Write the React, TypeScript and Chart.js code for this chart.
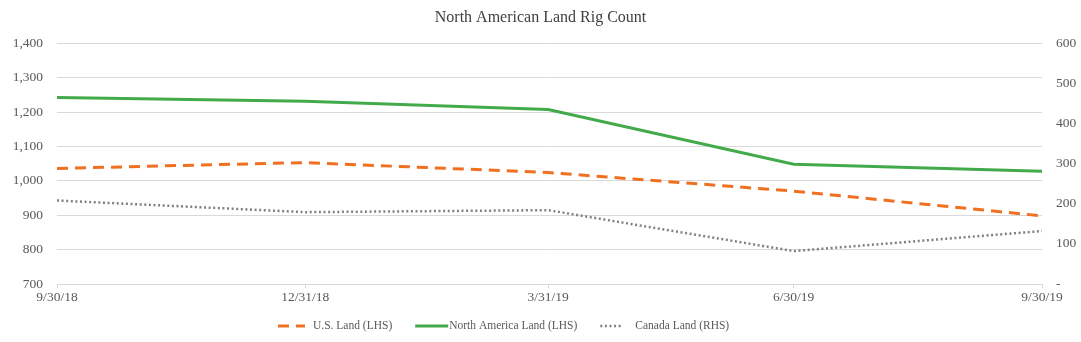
import React, { useEffect, useRef } from "react";
import { Chart, registerables } from "chart.js";

Chart.register(...registerables);

const categories = ["9/30/18", "12/31/18", "3/31/19", "6/30/19", "9/30/19"];
const usLand = [1036, 1053, 1024, 970, 898];
const northAmericaLand = [1242, 1231, 1207, 1048, 1028];
const canadaLand = [208, 179, 184, 82, 132];
const leftTicks = [700, 800, 900, 1000, 1100, 1200, 1300, 1400];
const rightTicks = [0, 100, 200, 300, 400, 500, 600];

const FONT = "'Liberation Serif', 'Times New Roman', serif";
const TICK_COLOR = "#595959";

// Day number of each date label (the x axis is a date axis)
const toDay = (s: string) => {
  const [m, d, y] = s.split("/").map(Number);
  return Date.UTC(2000 + y, m - 1, d) / 86400000;
};
const dayValues = categories.map(toDay);
const pts = (vals: number[]) => vals.map((v, i) => ({ x: dayValues[i], y: v }));

const legendPlugin = {
  id: "customLegend",
  afterDraw(chart: any) {
    const ctx = chart.ctx;
    const sampleW = [27, 33, 21];
    const textGap = [8, 1, 14];
    const itemGap = 23;
    let x = 278;
    const y = 326;
    ctx.save();
    ctx.font = `11.5px ${FONT}`;
    ctx.textBaseline = "middle";
    ctx.textAlign = "left";
    chart.data.datasets.forEach((ds: any, i: number) => {
      ctx.save();
      ctx.strokeStyle = ds.borderColor;
      ctx.lineWidth = ds.borderWidth;
      ctx.setLineDash(ds.borderDash || []);
      ctx.beginPath();
      ctx.moveTo(x, y);
      ctx.lineTo(x + sampleW[i], y);
      ctx.stroke();
      ctx.restore();
      x += sampleW[i] + textGap[i];
      ctx.fillStyle = TICK_COLOR;
      ctx.fillText(ds.label, x, y);
      x += ctx.measureText(ds.label).width + itemGap;
    });
    ctx.restore();
  },
};

export default function App() {
  const ref = useRef<HTMLCanvasElement | null>(null);
  useEffect(() => {
    if (!ref.current) return;
    const chart = new Chart(ref.current, {
      type: "line",
      data: {
        datasets: [
          {
            label: "U.S. Land (LHS)",
            data: pts(usLand),
            borderColor: "#F07022",
            backgroundColor: "#F07022",
            borderWidth: 3,
            borderDash: [11, 7],
            pointRadius: 0,
            tension: 0,
            yAxisID: "y",
          },
          {
            label: "North America Land (LHS)",
            data: pts(northAmericaLand),
            borderColor: "#43AA4B",
            backgroundColor: "#43AA4B",
            borderWidth: 3,
            pointRadius: 0,
            tension: 0,
            yAxisID: "y",
          },
          {
            label: "Canada Land (RHS)",
            data: pts(canadaLand),
            borderColor: "#808080",
            backgroundColor: "#808080",
            borderWidth: 2.5,
            borderDash: [2, 2.6],
            pointRadius: 0,
            tension: 0,
            yAxisID: "y1",
          },
        ],
      },
      plugins: [legendPlugin],
      options: {
        animation: false,
        responsive: true,
        maintainAspectRatio: false,
        layout: { padding: { left: 0, right: 0, top: 0, bottom: 36 } },
        plugins: {
          title: {
            display: true,
            text: "North American Land Rig Count",
            color: "#404040",
            font: { family: FONT, size: 16, weight: "normal" },
            padding: { top: 8, bottom: 16 },
          },
          legend: { display: false },
          tooltip: { enabled: false },
        },
        scales: {
          x: {
            type: "linear",
            min: dayValues[0],
            max: dayValues[dayValues.length - 1],
            offset: false,
            afterBuildTicks: (axis: any) => {
              axis.ticks = dayValues.map((v) => ({ value: v }));
            },
            afterFit: (axis: any) => {
              axis.height = 22;
            },
            grid: {
              display: true,
              drawOnChartArea: false,
              drawTicks: true,
              tickLength: 4,
              color: "#D9D9D9",
            },
            border: { display: true, color: "#D9D9D9" },
            ticks: {
              color: TICK_COLOR,
              font: { family: FONT, size: 13.5 },
              maxRotation: 0,
              autoSkip: false,
              padding: 1,
              callback: (v: any) => {
                const i = dayValues.indexOf(Number(v));
                return i >= 0 ? categories[i] : "";
              },
            },
          },
          y: {
            position: "left",
            min: 700,
            max: 1400,
            afterBuildTicks: (axis: any) => {
              axis.ticks = leftTicks.map((v) => ({ value: v }));
            },
            afterFit: (axis: any) => {
              axis.width = 57;
            },
            grid: { color: "#D9D9D9", drawTicks: false },
            border: { display: false },
            ticks: {
              color: TICK_COLOR,
              font: { family: FONT, size: 13.5 },
              padding: 14,
              callback: (v: any) => Number(v).toLocaleString("en-US"),
            },
          },
          y1: {
            position: "right",
            min: 0,
            max: 600,
            afterBuildTicks: (axis: any) => {
              axis.ticks = rightTicks.map((v) => ({ value: v }));
            },
            afterFit: (axis: any) => {
              axis.width = 39;
            },
            grid: { display: false, drawTicks: false },
            border: { display: false },
            ticks: {
              color: TICK_COLOR,
              font: { family: FONT, size: 13.5 },
              padding: 14,
              callback: (v: any) => (Number(v) === 0 ? "-" : String(v)),
            },
          },
        },
      },
    });
    return () => chart.destroy();
  }, []);
  return (
    <div style={{ position: "absolute", left: 0, top: 0, width: 1081, height: 342, background: "#fff" }}>
      <canvas ref={ref} />
    </div>
  );
}
